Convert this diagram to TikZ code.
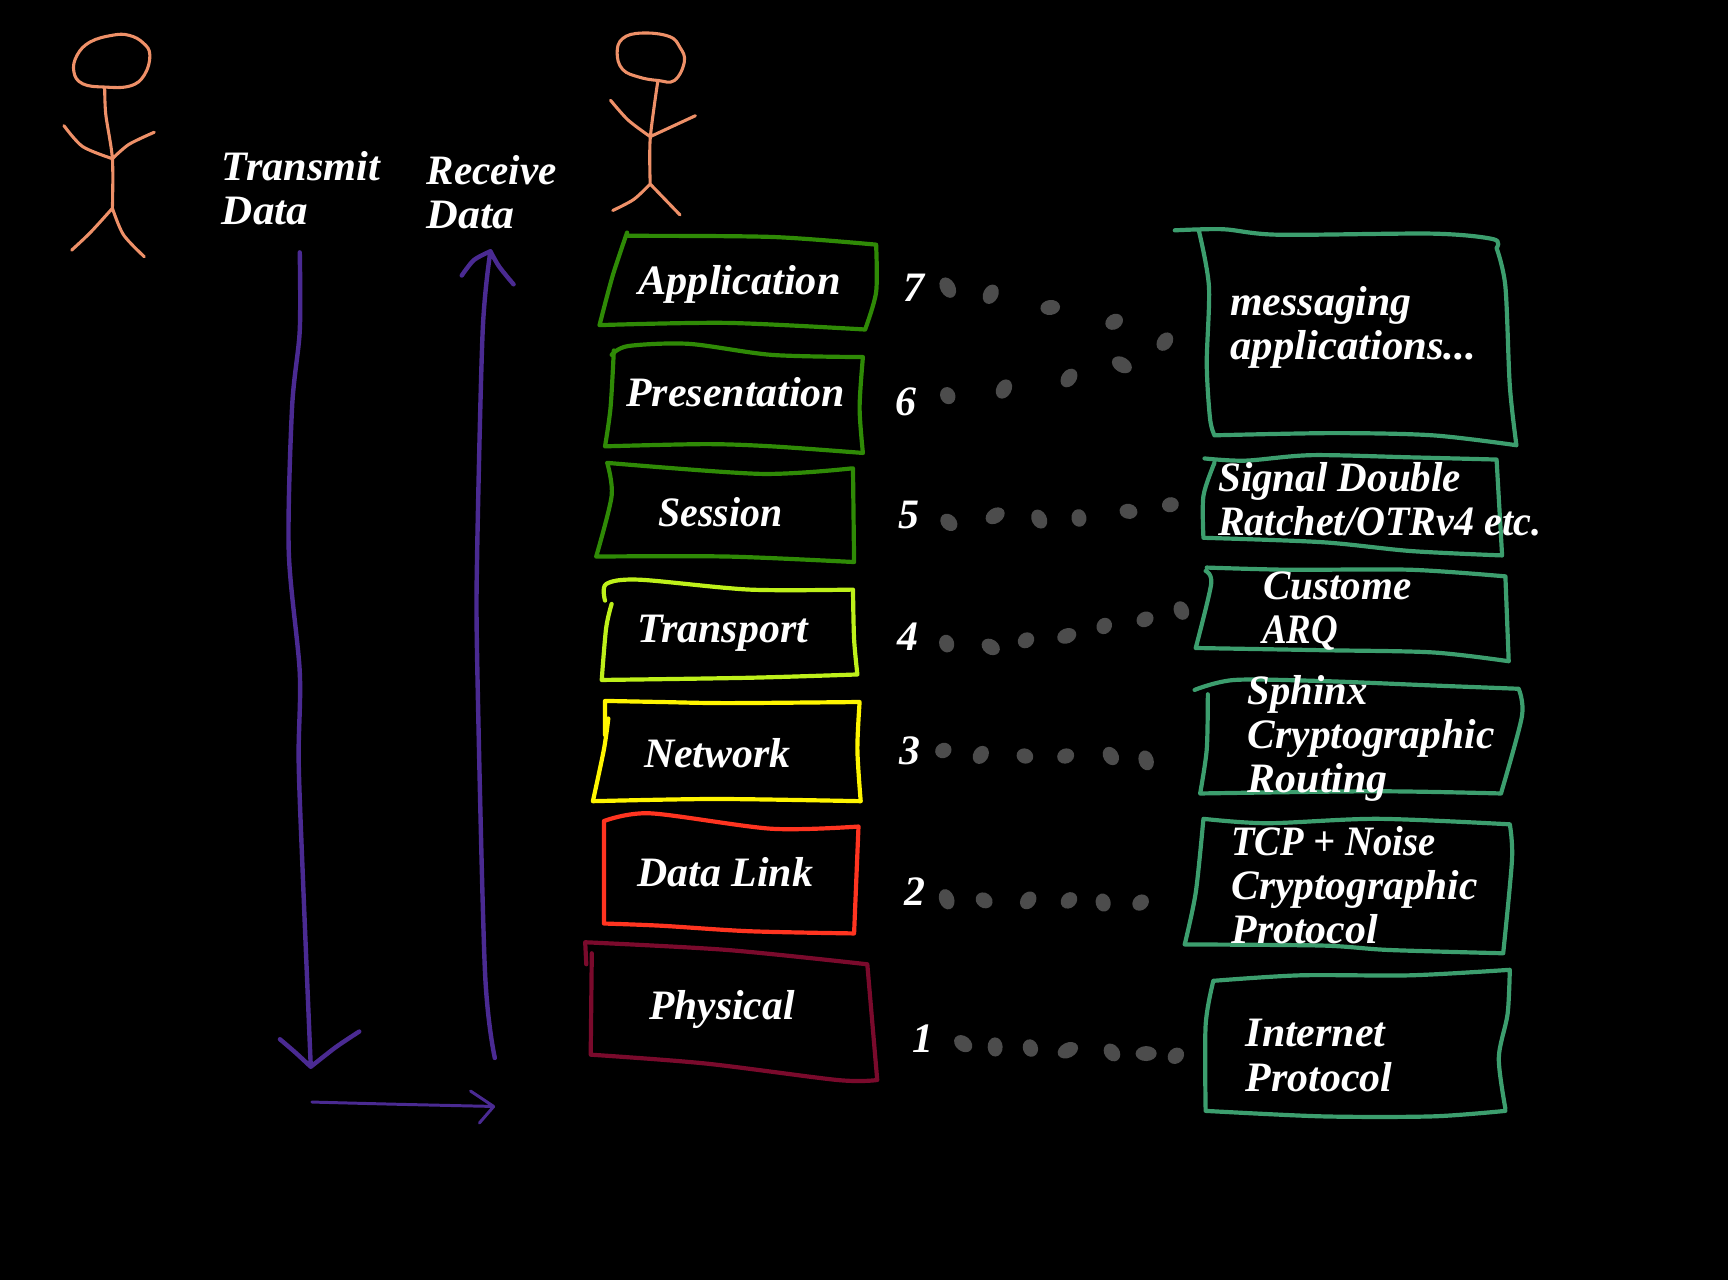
\documentclass[tikz,border=0pt]{standalone}
\usepackage{fontspec}
\setmainfont{Liberation Serif}
\newcommand{\labelfont}{\fontsize{19}{20}\bfseries\itshape\selectfont}
\newcommand{\sx}[2]{\scalebox{#1}[1]{#2}}
\definecolor{skin}{HTML}{EE9068}
\definecolor{arrowc}{HTML}{4A2A92}
\definecolor{boxgreen}{HTML}{2F8A06}
\definecolor{boxlime}{HTML}{BEF01A}
\definecolor{boxyellow}{HTML}{FFF500}
\definecolor{boxred}{HTML}{FF3420}
\definecolor{boxmaroon}{HTML}{7A0A2C}
\definecolor{boxteal}{HTML}{3C9E6E}
\definecolor{dotc}{HTML}{4C4C4C}
\tikzset{
  x=0.5pt,y=-0.5pt,
  hand/.style={line width=1.9pt,line join=round,line cap=round,smooth,tension=0.5},
  person/.style={hand,draw=skin,line width=1.4pt},
  flow/.style={hand,draw=arrowc,line width=2pt},
  lbl/.style={text=white,font=\labelfont,anchor=base west,inner sep=0pt,align=left},
  blob/.style={fill=dotc}
}
\begin{document}
\begin{tikzpicture}
\fill[black] (0,0) rectangle (1568,1161.5);
\useasboundingbox (0,0) rectangle (1568,1161.5);
% persons
\draw[person] plot[smooth cycle,tension=0.7] coordinates {(102,32) (82,38) (70,50) (67,65) (75,76) (95,79) (118,78) (131,68) (136,50) (130,39) (117,32)};
\draw[person] plot coordinates {(95,80) (96,104) (102,144) (102,189)}
  plot coordinates {(58,114) (75,133) (102,144)}
  plot coordinates {(102,144) (117,131) (140,120)}
  plot coordinates {(102,189) (82,211) (65,227)}
  plot coordinates {(102,189) (112,213) (131,233)};
\draw[person] plot[smooth cycle,tension=0.7] coordinates {(582,30) (565,35) (560,48) (565,63) (580,70) (597,73) (612,73) (621,56) (617,43) (607,33)};
\draw[person] plot coordinates {(597,73) (590,126) (590,167)}
  plot coordinates {(554,91) (570,109) (590,124)}
  plot coordinates {(590,124) (631,105)}
  plot coordinates {(590,167) (575,181) (556,191)}
  plot coordinates {(590,167) (617,195)};
% flow arrows
\draw[flow] plot coordinates {(272,229) (272,300) (265,370) (262,500) (272,610) (271,690) (275,800) (282,968)}
  plot coordinates {(254,943) (268,955) (282,968)}
  plot coordinates {(282,968) (305,950) (326,936)};
\draw[flow] plot coordinates {(449,960) (440,880) (433,600) (433,500) (438,300) (445,228)}
  plot coordinates {(419,250) (430,236) (445,228)}
  plot coordinates {(445,228) (453,242) (466,258)};
\draw[flow,line width=1.35pt] plot coordinates {(283,1000) (360,1002) (448,1004)}
  plot coordinates {(427,990) (448,1004)}
  plot coordinates {(448,1004) (435,1019)};
% layer boxes
\draw[hand,boxgreen] plot coordinates {(569,214) (700,215) (795,222)}
  plot coordinates {(795,222) (795,265) (785,299)}
  plot coordinates {(785,299) (660,293) (544,295)}
  plot coordinates {(544,295) (556,250) (569,211)};
\draw[hand,boxgreen] plot coordinates {(555,322) (570,314) (625,312) (700,322) (783,324)}
  plot coordinates {(783,324) (780,370) (783,411)}
  plot coordinates {(783,411) (700,405) (640,403) (549,405)}
  plot coordinates {(549,405) (554,370) (557,318)};
\draw[hand,boxgreen] plot coordinates {(551,420) (690,430) (773,425)}
  plot coordinates {(774,425) (775,510)}
  plot coordinates {(775,510) (660,505) (541,505)}
  plot coordinates {(541,505) (555,450) (551,420)};
\draw[hand,boxlime] plot coordinates {(549,545) (550,530) (580,526) (680,535) (774,535)}
  plot coordinates {(774,535) (775,580) (778,612)}
  plot coordinates {(778,612) (680,615) (546,617)}
  plot coordinates {(546,617) (550,570) (555,548)};
\draw[hand,boxyellow] plot coordinates {(549,636) (600,637) (660,638) (780,637)}
  plot coordinates {(780,637) (778,680) (781,727)}
  plot coordinates {(781,727) (650,725) (538,727)}
  plot coordinates {(538,727) (548,680) (552,652)}
  plot coordinates {(549,667) (549,636)};
\draw[hand,boxred] plot coordinates {(548,745) (590,738) (700,752) (779,750)}
  plot coordinates {(779,750) (775,847)}
  plot coordinates {(775,847) (680,845) (600,840) (548,838)}
  plot coordinates {(548,838) (548,745)};
\draw[hand,boxmaroon] plot coordinates {(531,855) (660,862) (787,875)}
  plot coordinates {(787,875) (796,980)}
  plot coordinates {(796,980) (760,980) (640,965) (536,957)}
  plot coordinates {(536,957) (537,865)}
  plot coordinates {(531,855) (532,875)};
% detail boxes
\draw[hand,boxteal] plot coordinates {(1066,209) (1110,208) (1160,213) (1300,212) (1355,217) (1358,225)}
  plot coordinates {(1358,225) (1366,260) (1370,350) (1376,404)}
  plot coordinates {(1376,404) (1300,395) (1210,393) (1102,395)}
  plot coordinates {(1102,395) (1098,380) (1095,330) (1097,260) (1088,210)};
\draw[hand,boxteal] plot coordinates {(1093,416) (1130,418) (1190,413) (1280,415) (1358,417)}
  plot coordinates {(1358,417) (1363,504)}
  plot coordinates {(1363,504) (1280,500) (1200,492) (1092,488)}
  plot coordinates {(1092,488) (1092,450) (1102,420)};
\draw[hand,boxteal] plot coordinates {(1095,515) (1170,517) (1280,517) (1366,523)}
  plot coordinates {(1366,523) (1369,600)}
  plot coordinates {(1369,600) (1300,592) (1200,590) (1085,588)}
  plot coordinates {(1085,588) (1099,530) (1094,518)};
\draw[hand,boxteal] plot coordinates {(1084,626) (1120,617) (1200,618) (1300,622) (1378,625)}
  plot coordinates {(1378,625) (1381,650) (1362,720)}
  plot coordinates {(1362,720) (1250,718) (1089,720)}
  plot coordinates {(1089,720) (1095,680) (1096,630)};
\draw[hand,boxteal] plot coordinates {(1092,743) (1150,747) (1250,743) (1370,748)}
  plot coordinates {(1370,748) (1372,780) (1364,865)}
  plot coordinates {(1364,865) (1260,862) (1200,858) (1075,857)}
  plot coordinates {(1075,857) (1085,810) (1092,743)};
\draw[hand,boxteal] plot coordinates {(1101,890) (1180,885) (1280,885) (1370,880)}
  plot coordinates {(1370,880) (1368,920) (1360,960) (1366,1006)}
  plot coordinates {(1366,1008) (1300,1013) (1200,1013) (1094,1008)}
  plot coordinates {(1094,1008) (1094,930) (1101,890)};
% dotted links
\pgfmathsetseed{11}
\foreach \p in {(860,261),(899,267),(953,279),(1011,292),(1057,310),
  (860,359),(911,353),(970,343),(1018,331),
  (861,474),(903,468),(943,471),(979,470),(1024,464),(1062,458),
  (859,584),(899,587),(931,581),(968,577),(1002,568),(1039,562),(1072,554),
  (856,681),(890,685),(930,686),(967,686),(1008,686),(1040,690),
  (859,816),(893,817),(933,817),(970,817),(1001,819),(1035,819),
  (874,947),(903,950),(935,951),(969,953),(1009,955),(1040,956),(1067,958)}{
  \pgfmathsetmacro{\ang}{rnd*180}
  \pgfmathsetmacro{\ra}{7.5+2.5*rnd}
  \fill[blob,rotate around={\ang:\p}] \p ellipse ({\ra} and 6.8);
}
% text
\node[lbl] (tx) at (201,204) {\sx{1.01}{Transmit}\\\sx{1.03}{Data}};
\node[lbl] (rx) at (387,207) {\sx{.98}{Receive}\\\sx{1.05}{Data}};
\node[lbl] (app) at (579,267) {\sx{1.01}{Application}};
\node[lbl] (pres) at (568,369) {Presentation};
\node[lbl] (sess) at (597,478) {\sx{.95}{Session}};
\node[lbl] (trans) at (578,583) {Transport};
\node[lbl] (netw) at (584,696) {Network};
\node[lbl] (dlink) at (578,804) {Data Link};
\node[lbl] (phys) at (589,925) {\sx{.99}{Physical}};
\node[lbl] (n7) at (819,274) {7};
\node[lbl] (n6) at (812,377) {6};
\node[lbl] (n5) at (815,480) {5};
\node[lbl] (n4) at (814,590) {4};
\node[lbl] (n3) at (816,694) {3};
\node[lbl] (n2) at (820,822) {2};
\node[lbl] (n1) at (828,955) {1};
\node[lbl] (d7) at (1116,326) {messaging\\\sx{1.02}{applications...}};
\node[lbl] (d5) at (1105,486) {\sx{.98}{Signal Double}\\\sx{.957}{Ratchet/OTRv4 etc.}};
\node[lbl] (d4) at (1145,584) {\hspace*{.5pt}\sx{.98}{Custome}\\\sx{.88}{ARQ}};
\node[lbl] (d3) at (1132,719) {\sx{.97}{Sphinx}\\\sx{.99}{Cryptographic}\\Routing};
\node[lbl] (d2) at (1117,856) {\sx{.92}{TCP + Noise}\\\sx{.99}{Cryptographic}\\Protocol};
\node[lbl] (d1) at (1130,990) {Internet\\Protocol};
\end{tikzpicture}
\end{document}
